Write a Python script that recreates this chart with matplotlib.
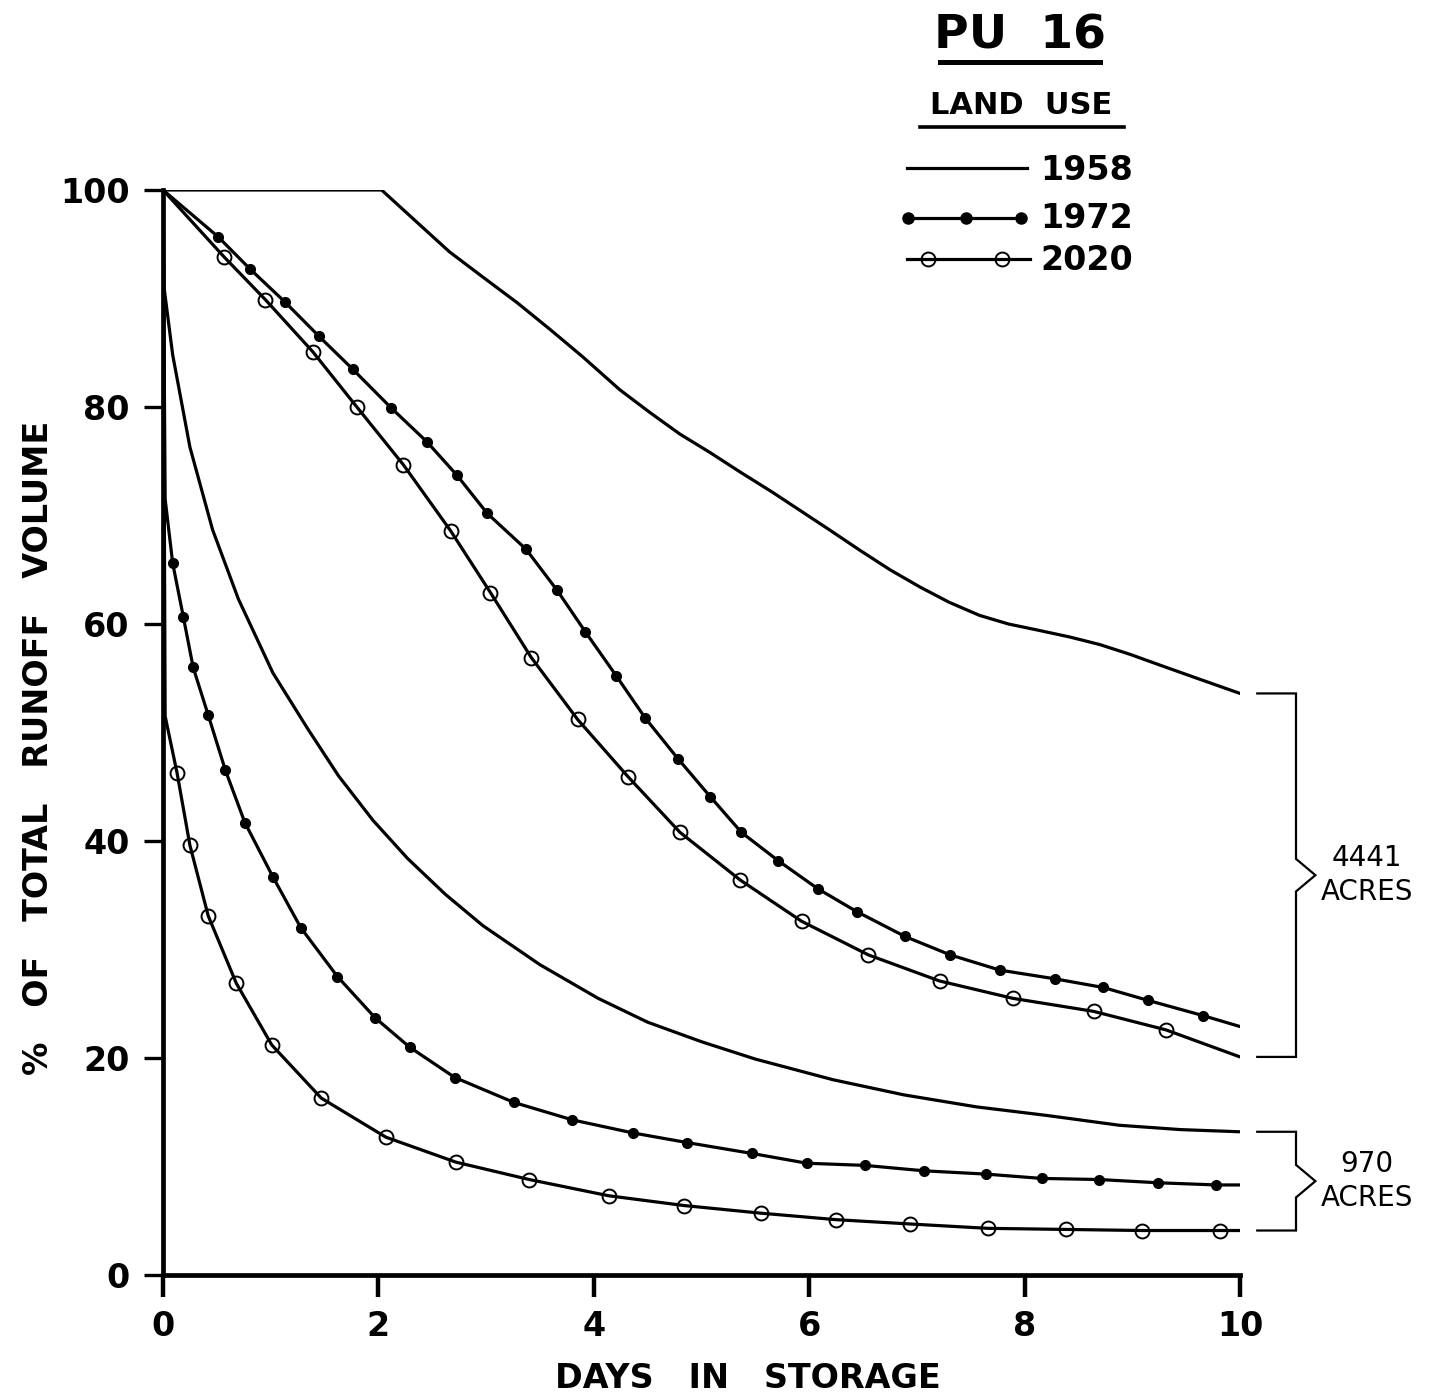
import matplotlib
matplotlib.use("Agg")
import matplotlib.pyplot as plt
from matplotlib.lines import Line2D

plt.rcParams['font.family'] = ['DejaVu Sans']

# ---- series: days in storage vs % of total runoff volume ----
# 4441-acre basin
days_1958_4441 = [0, 2.03, 2.35, 2.66, 2.98, 3.29, 3.60, 3.90, 4.24, 4.52, 4.80, 5.08,
                  5.36, 5.65, 5.91, 6.20, 6.47, 6.75, 7.03, 7.30, 7.58, 7.85, 8.14,
                  8.42, 8.70, 8.98, 9.26, 9.60, 10.0]
pct_1958_4441 = [100, 100, 97.1, 94.3, 91.9, 89.6, 87.1, 84.6, 81.6, 79.5, 77.5, 75.8,
                 74.0, 72.2, 70.5, 68.6, 66.8, 65.0, 63.4, 62.0, 60.8, 60.0, 59.4,
                 58.8, 58.1, 57.2, 56.2, 55.0, 53.6]

days_1972_4441 = [0, 0.51, 0.81, 1.13, 1.45, 1.76, 2.12, 2.45, 2.73, 3.01, 3.37, 3.66,
                  3.92, 4.21, 4.48, 4.78, 5.08, 5.37, 5.71, 6.08, 6.44, 6.89, 7.31,
                  7.77, 8.28, 8.73, 9.15, 9.66, 10.0]
pct_1972_4441 = [100, 95.7, 92.7, 89.7, 86.5, 83.5, 79.9, 76.8, 73.7, 70.2, 66.9, 63.1,
                 59.3, 55.2, 51.3, 47.6, 44.1, 40.8, 38.2, 35.6, 33.5, 31.2, 29.5,
                 28.1, 27.3, 26.5, 25.3, 23.9, 22.9]

days_2020_4441 = [0, 0.57, 0.95, 1.39, 1.80, 2.23, 2.67, 3.04, 3.42, 3.85, 4.32, 4.80,
                  5.36, 5.93, 6.55, 7.21, 7.89, 8.64, 9.31, 10.0]
pct_2020_4441 = [100, 93.8, 89.9, 85.1, 80.0, 74.7, 68.6, 62.9, 56.9, 51.2, 45.9, 40.8,
                 36.4, 32.6, 29.5, 27.1, 25.5, 24.3, 22.6, 20.1]

# 970-acre basin
days_1958_970 = [0, 0.01, 0.09, 0.25, 0.46, 0.70, 1.02, 1.34, 1.63, 1.95, 2.27, 2.62,
                 2.97, 3.50, 4.04, 4.50, 5.00, 5.50, 6.22, 6.88, 7.55, 8.21, 8.88,
                 9.45, 10.0]
pct_1958_970 = [100, 91.0, 84.8, 76.3, 68.7, 62.3, 55.5, 50.4, 46.0, 41.9, 38.4, 35.1,
                32.2, 28.6, 25.5, 23.3, 21.5, 19.9, 18.0, 16.6, 15.5, 14.7, 13.8,
                13.4, 13.2]

days_1972_970 = [0, 0.02, 0.09, 0.19, 0.28, 0.42, 0.58, 0.76, 1.02, 1.28, 1.62, 1.97,
                 2.29, 2.71, 3.26, 3.80, 4.36, 4.87, 5.47, 5.98, 6.52, 7.07, 7.64,
                 8.16, 8.69, 9.24, 9.78, 10.0]
pct_1972_970 = [100, 71.5, 65.6, 60.6, 56.0, 51.6, 46.5, 41.7, 36.7, 32.0, 27.5, 23.7,
                21.0, 18.2, 15.9, 14.3, 13.1, 12.2, 11.2, 10.3, 10.1, 9.6, 9.3,
                8.9, 8.8, 8.5, 8.3, 8.3]

days_2020_970 = [0, 0.02, 0.13, 0.25, 0.42, 0.68, 1.01, 1.47, 2.07, 2.72, 3.40, 4.14,
                 4.84, 5.55, 6.25, 6.94, 7.66, 8.38, 9.09, 9.81, 10.0]
pct_2020_970 = [100, 51.5, 46.3, 39.6, 33.1, 26.9, 21.2, 16.3, 12.7, 10.4, 8.8, 7.3,
                6.4, 5.7, 5.1, 4.7, 4.3, 4.2, 4.1, 4.1, 4.1]

x_ticks = [0, 2, 4, 6, 8, 10]
x_tick_labels = ["0", "2", "4", "6", "8", "10"]
y_ticks = [0, 20, 40, 60, 80, 100]
y_tick_labels = ["0", "20", "40", "60", "80", "100"]

legend_years = ["1958", "1972", "2020"]
basin_labels = ["4441\nACRES", "970\nACRES"]

W, H = 1437, 1399
fig = plt.figure(figsize=(W / 100, H / 100), dpi=100)
fig.patch.set_facecolor("white")


def fx(px):
    return px / W


def fy(py):
    return 1 - py / H


ax = fig.add_axes([fx(163), fy(1275), 1077 / W, 1085 / H])
ax.set_xlim(0, 10)
ax.set_ylim(0, 100)
ax.set_facecolor("none")

LW = 2.3
solid = dict(color="black", lw=LW, solid_capstyle="round", solid_joinstyle="round")
dot_style = dict(marker="o", ms=7, mfc="black", mec="black")
ring_style = dict(marker="o", ms=10, mfc="none", mec="black", mew=1.4)

# 1958 curves (plain lines)
ax.plot(days_1958_4441, pct_1958_4441, **solid)
ax.plot(days_1958_970, pct_1958_970, **solid)

# 1972 curves (filled dots)
ax.plot(days_1972_4441, pct_1972_4441, markevery=list(range(1, len(days_1972_4441) - 1)),
        **solid, **dot_style)
ax.plot(days_1972_970, pct_1972_970, markevery=list(range(2, len(days_1972_970) - 1)),
        **solid, **dot_style)

# 2020 curves (open circles)
ax.plot(days_2020_4441, pct_2020_4441, markevery=list(range(1, len(days_2020_4441) - 1)),
        **solid, **ring_style)
ax.plot(days_2020_970, pct_2020_970, markevery=list(range(2, len(days_2020_970) - 1)),
        **solid, **ring_style)

# axes styling
for side in ("top", "right"):
    ax.spines[side].set_visible(False)
for side in ("left", "bottom"):
    ax.spines[side].set_linewidth(3.4)
    ax.spines[side].set_capstyle("projecting")

ax.set_xticks(x_ticks)
ax.set_xticklabels(x_tick_labels)
ax.set_yticks(y_ticks)
ax.set_yticklabels(y_tick_labels)
ax.tick_params(axis="x", direction="out", length=16, width=3.2, pad=9,
               labelsize=24)
ax.tick_params(axis="y", direction="out", length=14, width=2.4, pad=10,
               labelsize=24)
for lbl in ax.get_xticklabels() + ax.get_yticklabels():
    lbl.set_fontweight("bold")

ax.set_xlabel("DAYS   IN   STORAGE", fontsize=24, fontweight="bold")
ax.xaxis.set_label_coords(0.543, -0.095)
ax.xaxis.label.set_verticalalignment("center")

ax.set_ylabel("%   OF   TOTAL   RUNOFF   VOLUME", fontsize=24, fontweight="bold")
ax.yaxis.set_label_coords(-0.116, 0.486)
ax.yaxis.label.set_verticalalignment("center")

# basin brackets on the right
def bracket(y_top, y_bot, label):
    x_in, x_v, x_tip = 10.16, 10.52, 10.70
    mid = (y_top + y_bot) / 2
    notch = 1.5
    ax.plot([x_in, x_v, x_v, x_tip, x_v, x_v, x_in],
            [y_top, y_top, mid + notch, mid, mid - notch, y_bot, y_bot],
            color="black", lw=1.6, clip_on=False, solid_joinstyle="miter")
    ax.text(11.18, mid, label, ha="center", va="center", fontsize=20,
            linespacing=1.25, clip_on=False)


bracket(pct_1958_4441[-1], pct_2020_4441[-1], basin_labels[0])
bracket(pct_1958_970[-1], pct_2020_970[-1], basin_labels[1])

# title and legend block
fig.text(fx(1020), fy(36), "PU  16", ha="center", va="center", fontsize=34,
         fontweight="bold")
fig.add_artist(Line2D([fx(940), fx(1100)], [fy(62), fy(62)], color="black", lw=3.6))
fig.text(fx(1021), fy(105), "LAND  USE", ha="center", va="center", fontsize=22,
         fontweight="bold")
fig.add_artist(Line2D([fx(920), fx(1124)], [fy(127), fy(127)], color="black", lw=2.6))

fig.add_artist(Line2D([fx(907), fx(1027)], [fy(168), fy(168)], color="black", lw=LW))
fig.add_artist(Line2D([fx(908), fx(966), fx(1021)], [fy(218)] * 3, color="black",
                      lw=LW, marker="o", ms=8, mfc="black", mec="black"))
fig.add_artist(Line2D([fx(907), fx(928), fx(1002), fx(1030)], [fy(259)] * 4,
                      color="black", lw=LW, marker="o", ms=10, mfc="none",
                      mec="black", mew=1.4, markevery=[1, 2]))
for yy, txt in zip([170, 218, 260], legend_years):
    fig.text(fx(1040), fy(yy), txt, ha="left", va="center", fontsize=24,
             fontweight="bold")

fig.savefig("out.png", dpi=100, facecolor="white")
